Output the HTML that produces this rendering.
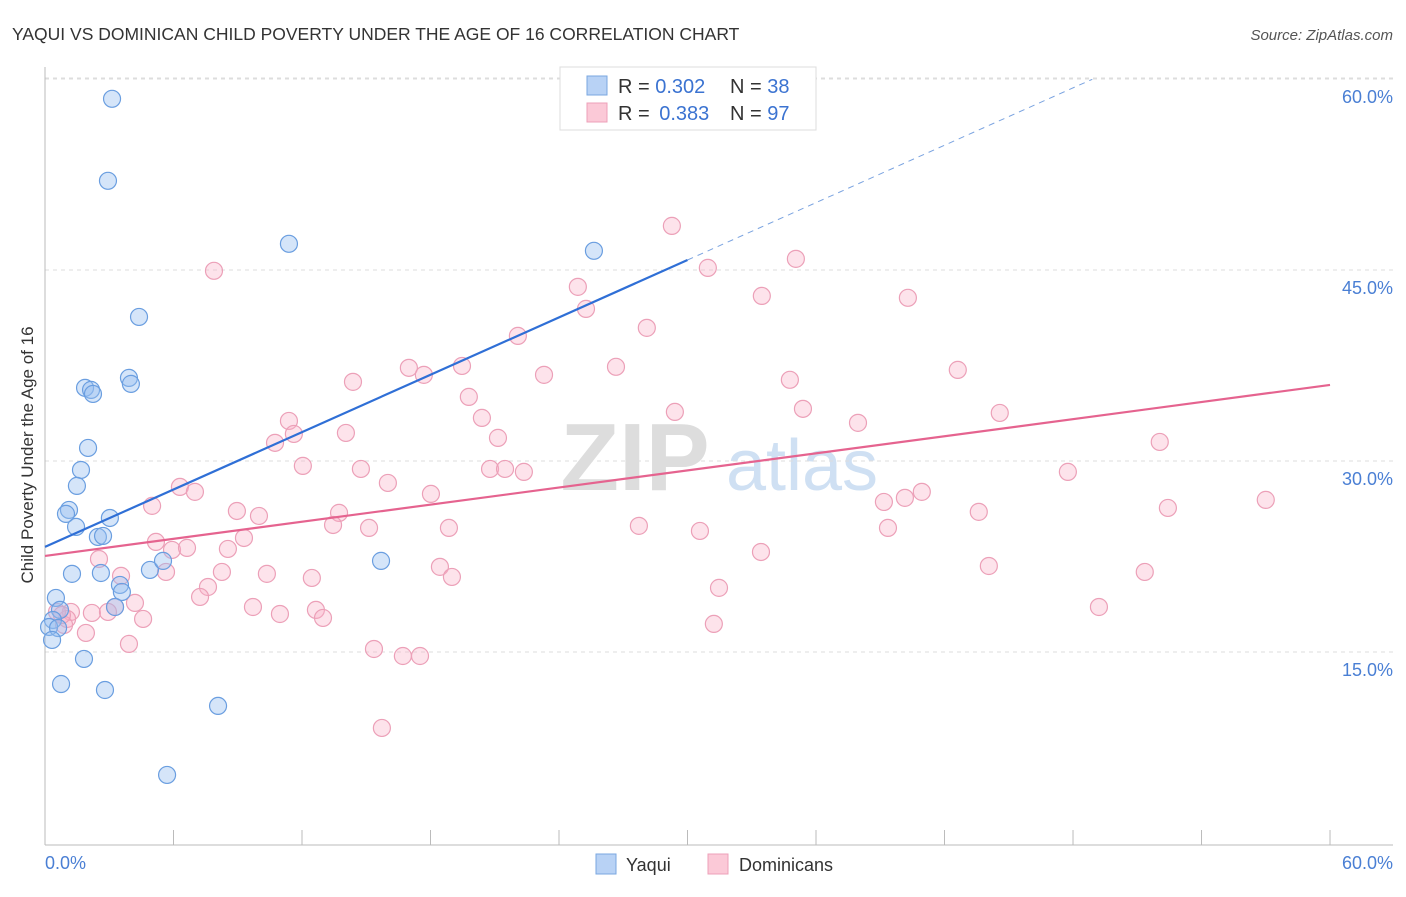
<!DOCTYPE html>
<html><head><meta charset="utf-8"><style>
body{margin:0;background:#fff;font-family:"Liberation Sans",sans-serif;}
svg text{font-family:"Liberation Sans",sans-serif;}
</style></head><body>
<svg id="chart" width="1406" height="892" xmlns="http://www.w3.org/2000/svg">
<text x="12" y="40" font-size="17.5" fill="#333">YAQUI VS DOMINICAN CHILD POVERTY UNDER THE AGE OF 16 CORRELATION CHART</text>
<text x="1393" y="40" font-size="15" fill="#555" font-style="italic" text-anchor="end">Source: ZipAtlas.com</text>
<g>
<text x="635" y="490" font-size="96" fill="#ddd" font-family="Liberation Serif" text-anchor="middle" font-weight="bold">ZIP</text>
<text x="802" y="490" font-size="72" fill="#cfe0f3" text-anchor="middle">atlas</text>
</g>
<g id="grid"></g>
<g id="axes"></g>
<g id="pts"></g>
<g id="lines"></g>
<text x="33" y="455" font-size="17" fill="#333" text-anchor="middle" transform="rotate(-90 33 455)">Child Poverty Under the Age of 16</text>
<text x="45" y="869" font-size="18" fill="#4a7fd4">0.0%</text>
<text x="1393" y="869" font-size="18" fill="#4a7fd4" text-anchor="end">60.0%</text>
<g>
<rect x="560" y="67" width="256" height="63" fill="#fff" stroke="#ddd"/>
<rect x="587" y="76" width="20" height="19" fill="#b8d2f5" stroke="#7aa7e0"/>
<rect x="587" y="103" width="20" height="19" fill="#fbc9d7" stroke="#eea0b8"/>
<text x="618" y="93" font-size="20" fill="#333">R = <tspan fill="#3b73d1">0.302</tspan></text>
<text x="730" y="93" font-size="20" fill="#333">N = <tspan fill="#3b73d1">38</tspan></text>
<text x="618" y="120" font-size="20" fill="#333">R = <tspan fill="#3b73d1" dx="4">0.383</tspan></text>
<text x="730" y="120" font-size="20" fill="#333">N = <tspan fill="#3b73d1">97</tspan></text>
</g>
<g>
<rect x="596" y="854" width="20" height="20" fill="#b8d2f5" stroke="#7aa7e0"/>
<text x="626" y="871" font-size="18" fill="#333">Yaqui</text>
<rect x="708" y="854" width="20" height="20" fill="#fbc9d7" stroke="#eea0b8"/>
<text x="739" y="871" font-size="18" fill="#333">Dominicans</text>
</g>
</svg>
<script>
const yTicks=[15,30,45,60];
const yTickLabels=["15.0%","30.0%","45.0%","60.0%"];
const xTicks=[0,6,12,18,24,30,36,42,48,54,60];
const yaquiX=[3.13,2.94,11.39,25.63,4.39,3.92,4.01,1.87,2.15,2.24,2.01,1.68,1.49,1.12,0.98,3.03,1.45,2.47,2.71,4.90,5.51,1.26,2.61,15.69,3.50,3.59,3.27,0.51,0.70,0.37,0.19,0.61,0.33,1.82,0.75,2.80,8.08,5.70];
const yaquiY=[59.86,53.42,48.47,47.92,42.73,37.94,37.47,37.16,37.0,36.68,32.44,30.71,29.46,27.57,27.26,26.94,26.24,25.45,25.53,22.86,23.57,22.55,22.62,23.57,21.68,21.13,19.95,20.66,19.72,18.93,18.38,18.30,17.36,15.87,13.90,13.43,12.18,6.76];
const domX=[29.27,30.95,35.06,7.89,24.88,33.47,40.29,25.26,28.10,22.08,16.99,19.47,26.66,17.69,23.30,14.38,34.78,42.62,19.79,35.39,29.41,44.58,11.39,20.40,37.96,11.62,14.05,10.74,21.15,52.05,12.04,14.75,20.78,21.48,22.36,47.76,6.30,16.01,7.00,18.02,39.17,40.15,40.94,5.00,57.00,8.96,9.99,13.73,43.60,52.43,13.45,15.13,18.86,27.73,30.58,39.36,9.29,5.18,5.93,6.63,8.54,33.43,2.52,18.44,8.26,5.65,10.36,19.00,12.46,51.35,44.07,3.55,7.61,31.47,7.24,9.71,4.20,3.27,49.21,12.65,10.97,1.21,2.19,1.03,4.58,12.98,0.89,1.91,31.23,3.92,15.36,16.71,17.51,15.73,0.56,0.79,2.94];
const domY=[49.88,46.58,47.29,46.35,45.09,44.38,44.23,43.36,41.87,41.24,38.73,38.88,38.81,38.18,38.18,37.63,37.79,38.57,36.45,35.51,35.27,35.19,34.56,34.80,34.41,33.54,33.62,32.84,33.23,32.91,31.03,30.79,30.79,30.79,30.56,30.56,29.38,29.69,28.99,28.83,28.20,28.52,28.99,27.89,28.36,27.49,27.10,27.34,27.42,27.73,26.39,26.16,26.16,26.32,25.92,26.16,25.37,25.06,24.43,24.59,24.51,24.27,23.72,23.10,22.70,22.70,22.55,22.31,22.23,22.70,23.17,22.39,21.52,21.45,20.74,19.95,20.27,19.95,19.95,19.72,19.40,19.56,19.48,19.01,19.01,19.09,18.54,17.91,18.62,17.05,16.65,16.10,16.10,10.45,19.56,19.32,19.56];
const yaquiTrend=[24.67,0.751];
const domTrend=[23.96,0.2238];
const NS="http://www.w3.org/2000/svg";
const X=v=>45+v*21.417, Y=v=>861-v*12.733;
function mk(t,a,p){const e=document.createElementNS(NS,t);for(const k in a)e.setAttribute(k,a[k]);p.appendChild(e);return e;}
const grid=document.getElementById('grid'),axes=document.getElementById('axes'),pts=document.getElementById('pts'),lines=document.getElementById('lines');
mk('line',{x1:45,y1:78,x2:1393,y2:78,stroke:'#ddd','stroke-dasharray':'4 4'},grid);
yTicks.forEach((t,i)=>{
 const g=mk('line',{x1:45,y1:Y(t)-18,x2:1393,y2:Y(t)-18,stroke:'#ddd','stroke-dasharray':'4 4'},grid);
 
 
 const tx=mk('text',{x:1393,y:Y(t)+6,'font-size':18,fill:'#4a7fd4','text-anchor':'end'},grid);
 tx.textContent=yTickLabels[i];
 
 
});
const ya=mk('line',{x1:45,y1:67,x2:45,y2:845,stroke:'#bbb'},axes);


const xa=mk('line',{x1:45,y1:845,x2:1393,y2:845,stroke:'#bbb'},axes);


xTicks.forEach(t=>{
 const l=mk('line',{x1:X(t),y1:830,x2:X(t),y2:845,stroke:'#bbb'},axes);
 
 
});
domX.forEach((v,i)=>{
 const c=mk('circle',{cx:X(v),cy:Y(domY[i]),r:8.5,fill:'rgba(248,175,198,0.35)',stroke:'#eca0b8','stroke-width':1.2},pts);
 
 
});
yaquiX.forEach((v,i)=>{
 const c=mk('circle',{cx:X(v),cy:Y(yaquiY[i]),r:8.5,fill:'rgba(150,190,240,0.4)',stroke:'#6a9ee0','stroke-width':1.2},pts);
 
 
});
const l1=mk('line',{x1:X(0),y1:Y(yaquiTrend[0]),x2:X(30),y2:Y(yaquiTrend[0]+30*yaquiTrend[1]),stroke:'#2f6fd6','stroke-width':2.2},lines);


const l2=mk('line',{x1:X(30),y1:Y(yaquiTrend[0]+30*yaquiTrend[1]),x2:X(48.9),y2:Y(yaquiTrend[0]+48.9*yaquiTrend[1]),stroke:'#7aa3e0','stroke-width':1,'stroke-dasharray':'6 5'},lines);


const l3=mk('line',{x1:X(0),y1:Y(domTrend[0]),x2:X(60),y2:Y(domTrend[0]+60*domTrend[1]),stroke:'#e5638f','stroke-width':2.2},lines);


</script>
</body></html>
